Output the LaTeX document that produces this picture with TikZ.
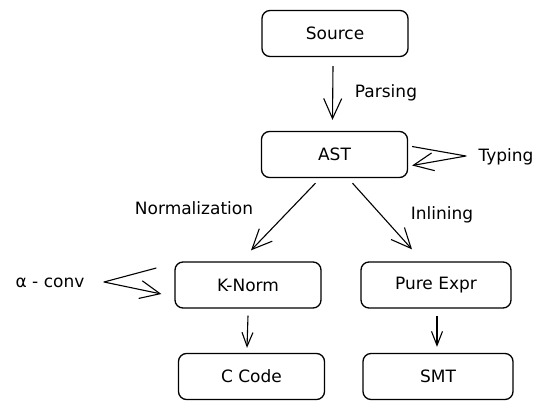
\documentclass[tikz,border=0pt]{standalone}
\usepackage{fontspec}
\setmainfont{DejaVu Sans}
\usetikzlibrary{arrows.meta,calc}
\begin{document}
\begin{tikzpicture}[x=1pt,y=-1pt,
  box/.style={draw, line width=1.3pt, rounded corners=8pt, minimum width=146pt, minimum height=46pt, inner sep=0pt, font=\fontsize{17}{20}\selectfont},
  lbl/.style={font=\fontsize{17}{20}\selectfont, inner sep=1pt},
  arr/.style={line width=1.1pt, line join=round, -{Straight Barb[length=20pt,width=18pt,line width=1.1pt]}},
  sarr/.style={line width=1.1pt, -{Straight Barb[length=14pt,width=11pt,line width=1.1pt]}}]
\useasboundingbox (0,0) rectangle (547,410);
\node[box] (src) at (335,33.5) {Source};
\node[box] (ast) at (334.5,154.5) {AST};
\node[box] (kn) at (248,285) {K-Norm};
\node[box, minimum width=150pt] (pe) at (436,285) {Pure Expr};
\node[box] (cc) at (251.5,376.5) {C Code};
\node[box, minimum width=150pt] (smt) at (438,376.5) {SMT};
% labels
\node[lbl] (lparse) at (386,93) {Parsing};
\node[lbl] (ltype) at (506,157) {Typing};
\node[lbl] (lnorm) at (194,208) {Normalization};
\node[lbl] (linl) at (442,215) {Inlining};
\node[lbl] (lalpha) at (50,283) {α - conv};
% connectors
\draw[arr] ($(src.south)+(-2,9)$) -- ($(ast.north)+(-2,-11)$);
\coordinate (tyB) at (466,156);
\draw[arr] ($(ast.east)+(4,-8)$) -- (tyB) -- ($(ast.east)+(4,11)$);
\draw[arr] ($(ast.south)+(-19,5)$) -- ($(kn.north)+(3,-11)$);
\draw[arr] ($(ast.south)+(18,5)$) -- ($(pe.north)+(-24,-12)$);
\coordinate (alB) at (104,282);
\draw[arr] ($(kn.west)+(-18,-17)$) -- (alB) -- ($(kn.west)+(-13,9)$);
\draw[sarr] ($(kn.south)+(0,7)$) -- ($(cc.north)+(-4.5,-5)$);
\draw[sarr] ($(pe.south)+(1,7)$) -- ($(smt.north)+(-1,-6)$);
\end{tikzpicture}
\end{document}
